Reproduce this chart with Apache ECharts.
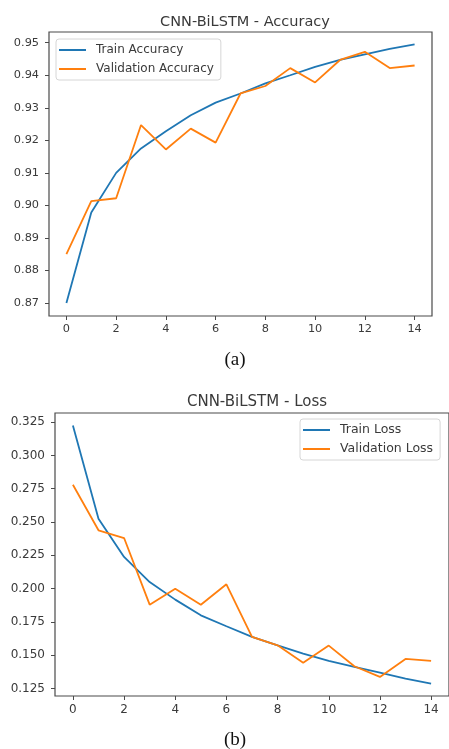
<!DOCTYPE html>
<html>
<head>
<meta charset="utf-8">
<script src="https://cdn.jsdelivr.net/npm/echarts@6/dist/echarts.min.js"></script>
<style>
  html, body { margin: 0; padding: 0; background: #fff; }
  #chart { width: 449px; height: 749px; }
</style>
</head>
<body>
<div id="chart"></div>
<script>
const epochs = [0, 1, 2, 3, 4, 5, 6, 7, 8, 9, 10, 11, 12, 13, 14];

const trainAcc = [0.870, 0.8978, 0.910, 0.9175, 0.9228, 0.9277, 0.9316, 0.9344, 0.9375, 0.940, 0.9426, 0.9447, 0.9464, 0.9481, 0.9495];
const valAcc = [0.885, 0.9013, 0.9022, 0.9247, 0.9172, 0.9236, 0.9193, 0.9344, 0.9367, 0.9422, 0.9378, 0.9447, 0.9472, 0.9422, 0.943];

const trainLoss = [0.3225, 0.2525, 0.2238, 0.205, 0.1918, 0.180, 0.1718, 0.1638, 0.1575, 0.1513, 0.1458, 0.1413, 0.137, 0.1325, 0.1288];
const valLoss = [0.278, 0.2438, 0.238, 0.188, 0.200, 0.188, 0.2033, 0.1638, 0.1575, 0.1445, 0.1573, 0.1418, 0.1338, 0.1473, 0.1458];

const xTicks = [0, 2, 4, 6, 8, 10, 12, 14];
const accTicks = [0.87, 0.88, 0.89, 0.90, 0.91, 0.92, 0.93, 0.94, 0.95];
const lossTicks = [0.125, 0.150, 0.175, 0.200, 0.225, 0.250, 0.275, 0.300, 0.325];

const blue = '#1f77b4';
const orange = '#ff7f0e';
const textColor = '#3a3a3a';
const frameColor = '#4a4a4a';

function pairs(ys) {
  return epochs.map((e, i) => [e, ys[i]]);
}

function xAxisFor(gridIndex, fontSize) {
  return {
    type: 'value',
    gridIndex: gridIndex,
    min: -0.7,
    max: 14.7,
    splitLine: { show: false },
    axisLine: { show: false, onZero: false },
    axisTick: { show: true, customValues: xTicks, length: 4, lineStyle: { color: frameColor } },
    axisLabel: { customValues: xTicks, color: textColor, fontSize: fontSize, fontFamily: 'DejaVu Sans', margin: 8 }
  };
}

function yAxisFor(gridIndex, ticks, digits, min, max, fontSize) {
  return {
    type: 'value',
    gridIndex: gridIndex,
    min: min,
    max: max,
    splitLine: { show: false },
    axisLine: { show: false, onZero: false },
    axisTick: { show: true, customValues: ticks, length: 4, lineStyle: { color: frameColor } },
    axisLabel: {
      customValues: ticks,
      color: textColor,
      fontSize: fontSize,
      fontFamily: 'DejaVu Sans',
      margin: 10,
      formatter: (v) => v.toFixed(digits)
    }
  };
}

function legendFor(names, left, top, fontSize) {
  return {
    data: names,
    orient: 'vertical',
    left: left,
    top: top,
    icon: 'rect',
    itemWidth: 27,
    itemHeight: 2,
    itemGap: 5,
    padding: [4, 7, 4, 3],
    borderColor: '#d6d6d6',
    borderWidth: 1,
    borderRadius: 3,
    backgroundColor: 'rgba(255,255,255,0.85)',
    textStyle: { color: textColor, fontSize: fontSize, lineHeight: 14, fontFamily: 'DejaVu Sans', padding: [0, 0, 0, 5] }
  };
}

function lineSeries(name, ys, color, idx) {
  return {
    name: name,
    type: 'line',
    xAxisIndex: idx,
    yAxisIndex: idx,
    data: pairs(ys),
    symbol: 'none',
    lineStyle: { color: color, width: 1.8 },
    itemStyle: { color: color }
  };
}

const chart = echarts.init(document.getElementById('chart'));
chart.setOption({
  animation: false,
  backgroundColor: '#fff',
  title: [
    { text: 'CNN-BiLSTM - Accuracy', left: 240, top: 10, textAlign: 'center',
      textStyle: { fontSize: 14.5, fontWeight: 'normal', color: textColor, fontFamily: 'DejaVu Sans' } },
    { text: '(a)', left: 230, top: 346, textAlign: 'center',
      textStyle: { fontSize: 19, fontWeight: 'normal', color: '#111', fontFamily: 'Liberation Serif' } },
    { text: 'CNN-BiLSTM - Loss', left: 252, top: 390, textAlign: 'center',
      textStyle: { fontSize: 15, fontWeight: 'normal', color: textColor, fontFamily: 'DejaVu Sans' } },
    { text: '(b)', left: 230, top: 726, textAlign: 'center',
      textStyle: { fontSize: 19, fontWeight: 'normal', color: '#111', fontFamily: 'Liberation Serif' } }
  ],
  legend: [
    legendFor(['Train Accuracy', 'Validation Accuracy'], 56, 39, 12),
    legendFor(['Train Loss', 'Validation Loss'], 300, 419, 12.5)
  ],
  grid: [
    { left: 49, top: 32, width: 383, height: 284, show: true, borderColor: frameColor, borderWidth: 1.2, backgroundColor: 'transparent' },
    { left: 55, top: 413, width: 395, height: 283, show: true, borderColor: frameColor, borderWidth: 1.2, backgroundColor: 'transparent' }
  ],
  xAxis: [xAxisFor(0, 11.3), xAxisFor(1, 12)],
  yAxis: [
    yAxisFor(0, accTicks, 2, 0.866, 0.9533, 11.3),
    yAxisFor(1, lossTicks, 3, 0.1195, 0.3318, 12)
  ],
  series: [
    lineSeries('Train Accuracy', trainAcc, blue, 0),
    lineSeries('Validation Accuracy', valAcc, orange, 0),
    lineSeries('Train Loss', trainLoss, blue, 1),
    lineSeries('Validation Loss', valLoss, orange, 1)
  ]
});
</script>
</body>
</html>
